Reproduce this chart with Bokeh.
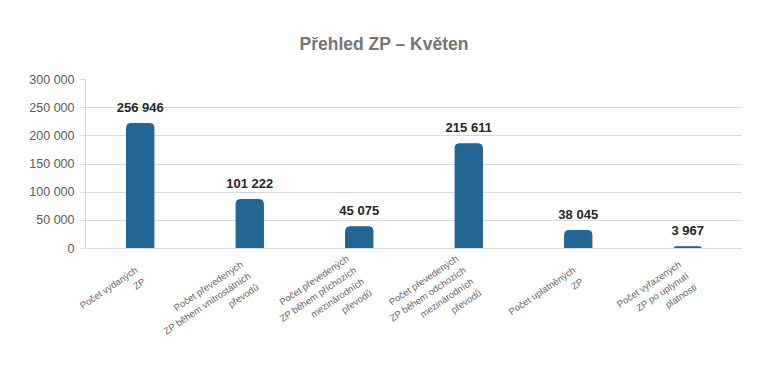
from bokeh.plotting import figure
from bokeh.models import ColumnDataSource, Title, FixedTicker
from bokeh.core.properties import value
from bokeh.embed import file_html
from bokeh.resources import INLINE
import math

categories = [
    "Počet vydaných\nZP",
    "Počet převedených\nZP během vnitrostátních\npřevodů",
    "Počet převedených\nZP během příchozích\nmezinárodních\npřevodů",
    "Počet převedených\nZP během odchozích\nmezinárodních\npřevodů",
    "Počet uplatněných\nZP",
    "Počet vyřazených\nZP po uplynutí\nplatnosti",
]
# bar heights as drawn in the picture
bar_values = [221900, 87000, 38500, 185900, 32000, 3000]
# data labels as printed above the bars
label_texts = ["256 946", "101 222", "45 075", "215 611", "38 045", "3 967"]
y_ticks = [0, 50000, 100000, 150000, 200000, 250000, 300000]
y_tick_labels = ["0", "50 000", "100 000", "150 000", "200 000", "250 000", "300 000"]

src = ColumnDataSource(dict(cat=categories, val=bar_values, lab=label_texts))

FONT = "Liberation Sans"

p = figure(width=768, height=384, x_range=categories, y_range=(0, 300000),
           output_backend="svg", toolbar_location=None,
           min_border_left=85, min_border_right=26, min_border_top=79, min_border_bottom=136)
p.title = Title(text="Přehled ZP – Květen", align="left", text_font=FONT,
                text_font_size="17.5px", text_color="#757575", text_font_style="bold",
                offset=214, standoff=52)
p.outline_line_color = None
p.background_fill_color = "white"
p.border_fill_color = "white"

p.vbar(x="cat", top="val", width=0.25, source=src, fill_color="#226695",
       line_color="#226695", border_radius=(4, 4, 0, 0))
p.text(x="cat", y="val", text="lab", source=src, text_align="center",
       text_baseline="middle", y_offset=-16, text_font=value(FONT),
       text_font_size="13px", text_font_style="bold", text_color="#262626")

p.xgrid.grid_line_color = None
p.ygrid.grid_line_color = "#d9d9d9"
p.ygrid.ticker = FixedTicker(ticks=y_ticks)

p.yaxis.ticker = FixedTicker(ticks=y_ticks)
p.yaxis.major_label_overrides = {t: l for t, l in zip(y_ticks, y_tick_labels)}
p.yaxis.axis_line_color = "#dcdcdc"
p.yaxis.major_tick_line_color = "#d9d9d9"
p.yaxis.major_tick_out = 5
p.yaxis.major_tick_in = 0
p.yaxis.minor_tick_line_color = None
p.yaxis.major_label_standoff = 6
p.yaxis.major_label_text_font = FONT
p.yaxis.major_label_text_font_size = "12.5px"
p.yaxis.major_label_text_color = "#595959"

p.xaxis.axis_line_color = "#d9d9d9"
p.xaxis.major_tick_line_color = None
p.xaxis.major_tick_out = 0
p.xaxis.major_tick_in = 0
p.xaxis.major_label_orientation = math.radians(34)
p.xaxis.major_label_standoff = 26
p.xaxis.major_label_text_font = FONT
p.xaxis.major_label_text_font_size = "9.5px"
p.xaxis.major_label_text_line_height = 1.25
p.xaxis.major_label_text_color = "#666666"

open("out.html", "w").write(file_html(p, INLINE))
